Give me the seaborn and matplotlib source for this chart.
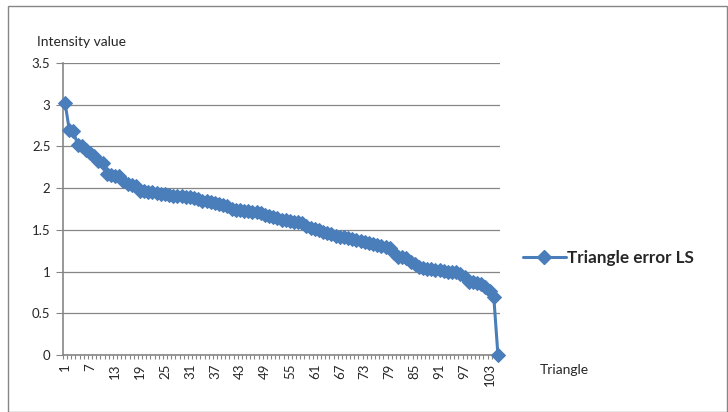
import matplotlib
matplotlib.use("Agg")
import matplotlib.pyplot as plt
from matplotlib.patches import Rectangle
import numpy as np
import pandas as pd
import seaborn as sns

# Sorted per-triangle intensity error (least-squares fit)
triangle = list(range(1, 106))
error_ls = [
    3.02, 2.70, 2.68, 2.52, 2.50, 2.46, 2.42, 2.38, 2.33, 2.30,
    2.17, 2.16, 2.15, 2.14, 2.08, 2.05, 2.04, 2.03, 1.97, 1.96,
    1.95, 1.95, 1.94, 1.93, 1.93, 1.92, 1.91, 1.91, 1.90, 1.89,
    1.89, 1.88, 1.87, 1.85, 1.84, 1.83, 1.82, 1.81, 1.80, 1.78,
    1.75, 1.74, 1.74, 1.73, 1.73, 1.72, 1.71, 1.70, 1.68, 1.67,
    1.65, 1.64, 1.62, 1.62, 1.61, 1.60, 1.59, 1.58, 1.55, 1.52,
    1.51, 1.50, 1.48, 1.46, 1.45, 1.43, 1.42, 1.41, 1.40, 1.39,
    1.38, 1.37, 1.35, 1.34, 1.33, 1.32, 1.31, 1.30, 1.28, 1.22,
    1.18, 1.17, 1.16, 1.12, 1.09, 1.06, 1.04, 1.03, 1.03, 1.02,
    1.02, 1.01, 1.00, 1.00, 0.99, 0.97, 0.93, 0.88, 0.87, 0.86,
    0.85, 0.81, 0.77, 0.70, 0.00,
]
series_name = "Triangle error LS"
y_ticks = [0, 0.5, 1, 1.5, 2, 2.5, 3, 3.5]
y_tick_labels = ["0", "0.5", "1", "1.5", "2", "2.5", "3", "3.5"]
x_tick_labels = [str(t) for t in triangle[::6]]

df = pd.DataFrame({"Triangle": triangle, "Error": error_ls})

sns.set_theme(style="white")
plt.rcParams["font.family"] = ["Lato", "DejaVu Sans"]

W, H = 728, 412
fig = plt.figure(figsize=(W / 100, H / 100), dpi=100)
ax = fig.add_axes([63 / W, 57 / H, (500 - 63) / W, (355 - 63) / H])

line_color = "#4A7EBB"
sns.lineplot(data=df, x="Triangle", y="Error", ax=ax, color=line_color,
             linewidth=2.2, marker="D", markersize=7,
             markeredgecolor=line_color, markerfacecolor=line_color,
             legend=False, clip_on=False, zorder=5)

ax.set_xlim(0.5, 105.5)
ax.set_ylim(0, 3.5)
ax.set_yticks(y_ticks)
ax.set_yticklabels(y_tick_labels, fontsize=9.5)
ax.set_xticks(triangle[::6])
ax.set_xticklabels(x_tick_labels, rotation=90, fontsize=9.5)
ax.set_xticks(np.arange(0.5, 106, 1.0), minor=True)
ax.tick_params(axis="x", which="major", length=0, pad=6)
ax.tick_params(axis="x", which="minor", bottom=True, length=3, width=0.8,
               color="#868686", direction="out")
ax.tick_params(axis="y", which="major", left=True, length=5, width=0.8,
               color="#868686", direction="out", pad=4)
ax.set_xlabel("")
ax.set_ylabel("")

ax.grid(axis="y", color="#868686", linewidth=0.9)
ax.set_axisbelow(True)
for side in ["top", "right"]:
    ax.spines[side].set_visible(False)
for side in ["left", "bottom"]:
    ax.spines[side].set_color("#868686")
    ax.spines[side].set_linewidth(1.2)

fig.text(37 / W, 1 - 42 / H, "Intensity value", fontsize=10,
         va="center", ha="left")
fig.text(540 / W, 1 - 370 / H, "Triangle", fontsize=10,
         va="center", ha="left")

# Legend entry drawn at the right of the plot area
handle = plt.Line2D([], [], color=line_color, linewidth=2.2, marker="D",
                    markersize=7)
fig.legend([handle], [series_name], loc="center left",
           bbox_to_anchor=(516 / W, 1 - 258 / H), frameon=False,
           prop={"weight": "bold", "size": 12.3}, handlelength=2.5,
           handletextpad=0.1, borderaxespad=0)

fig.patches.append(Rectangle((8 / W, 0), 1 - 9 / W, 1 - 6 / H,
                             transform=fig.transFigure, fill=False,
                             edgecolor="#868686", linewidth=1.0))

fig.savefig("out.png", dpi=100)
